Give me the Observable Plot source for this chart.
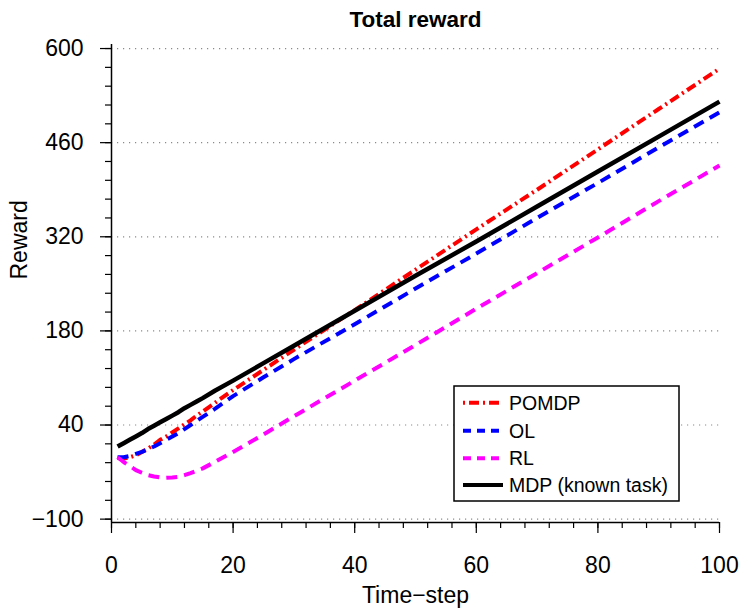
<!DOCTYPE html>
<html><head><meta charset="utf-8">
<script src="https://cdn.jsdelivr.net/npm/d3@7"></script>
<script src="https://cdn.jsdelivr.net/npm/@observablehq/plot@0.6"></script>
<style>html,body{margin:0;padding:0;background:#fff}</style>
</head><body><div id="chart"></div>
<script>
const timeSteps = [1,2,3,4,5,6,7,8,9,10,11,12,13,14,15,17,20,25,30,40,50,60,70,80,90,100];
const pomdp = [-9,-10,-8,-5,0,5,11,18,23,29,35,41,47,54,60,73,92,122,152,211,271,331,390,450,510,570];
const ol    = [-8,-8,-6,-3,0,4,8,13,18,23,28,34,40,46,52,64,83,111,138,190,243,295,348,400,453,505];
const rl    = [-8,-15,-21,-27,-31,-34.5,-36.5,-38,-38.5,-38,-37,-34.5,-31.5,-28,-24.5,-15,0,26,53,106,159,213,266,319,373,426];
const mdp   = [8,13,18,23,28,34,39,44,49,54,59,65,70,75,80,91,106,132,158,210,262,313,365,417,469,521];
const seriesNames  = ["POMDP","OL","RL","MDP (known task)"];
const seriesColors = ["#ff0000","#0000ff","#ff00ff","#000000"];
const seriesDash   = ["10,4,2,4","11,7","11,7","none"];
const yMajorTicks = [-100,40,180,320,460,600];
const xMajorTicks = [0,20,40,60,80,100];
const yMinorTicks = d3.range(-100, 601, 28);
const xMinorTicks = d3.range(0, 101, 4);

const allSeries = [pomdp, ol, rl, mdp];
const font = "'Liberation Sans', Arial, Helvetica, sans-serif";
const fmt = d => d < 0 ? "\u2212" + Math.abs(d) : String(d);

const lineMarks = allSeries.map((vals, i) => Plot.line(
  vals.map((v, j) => ({t: timeSteps[j], reward: v})),
  {x: "t", y: "reward", stroke: seriesColors[i], strokeWidth: i === 3 ? 4.5 : 4,
   strokeDasharray: seriesDash[i], strokeLinecap: "butt", strokeLinejoin: "round"}
));

const plot = Plot.plot({
  width: 741, height: 610,
  marginLeft: 111, marginRight: 22, marginTop: 44, marginBottom: 88,
  style: {fontFamily: font, fontSize: "23px", background: "#fff", color: "#000"},
  x: {domain: [0, 100]},
  y: {domain: [-105, 606]},
  marks: [
    Plot.gridY(yMajorTicks, {stroke: "#8a8a8a", strokeOpacity: 1, strokeDasharray: "1.2,4.8", strokeWidth: 1.2}),
    Plot.axisY(yMinorTicks, {tickSize: 6, tickFormat: () => "", label: null, strokeWidth: 1.2}),
    Plot.axisY(yMajorTicks, {tickSize: 11, tickPadding: 17, tickFormat: fmt, label: null, strokeWidth: 1.2, fontSize: 23}),
    Plot.axisX(xMinorTicks, {tickSize: 6, tickFormat: () => "", label: null, strokeWidth: 1.2}),
    Plot.axisX(xMajorTicks, {tickSize: 11, tickPadding: 23, tickFormat: fmt, label: null, strokeWidth: 1.2, fontSize: 23}),
    Plot.ruleX([0], {strokeWidth: 1.5}),
    Plot.ruleY([-105], {strokeWidth: 1.5}),
    ...lineMarks,
    Plot.text(["Total reward"], {frameAnchor: "top", lineAnchor: "middle", dy: -24.5, fontWeight: "bold", fontSize: 22.5}),
    Plot.text(["Time\u2212step"], {frameAnchor: "bottom", lineAnchor: "middle", dy: 73, fontSize: 23}),
    Plot.text(["Reward"], {frameAnchor: "left", lineAnchor: "middle", rotate: -90, dx: -92, dy: -4, fontSize: 23})
  ]
});

// Legend
const svg = d3.select(plot);
const lg = svg.append("g").attr("font-family", font).attr("font-size", 19.5).attr("text-anchor", "start");
const bx = 454, by = 386, bw = 225, bh = 115;
lg.append("rect").attr("x", bx).attr("y", by).attr("width", bw).attr("height", bh)
  .attr("fill", "#fff").attr("stroke", "#000").attr("stroke-width", 1.5);
const rowY = [402.7, 430.7, 458.3, 485];
seriesNames.forEach((name, i) => {
  lg.append("line").attr("x1", 463).attr("x2", 503).attr("y1", rowY[i]).attr("y2", rowY[i])
    .attr("stroke", seriesColors[i]).attr("stroke-width", 4)
    .attr("stroke-dasharray", seriesDash[i] === "none" ? null : (i === 0 ? "2,4,10,4" : "8,6"));
  lg.append("text").attr("x", 509).attr("y", rowY[i]).attr("dy", "0.35em")
    .attr("text-anchor", "start").attr("fill", "#000").text(name);
});

document.getElementById("chart").appendChild(plot);
</script>
</body></html>
